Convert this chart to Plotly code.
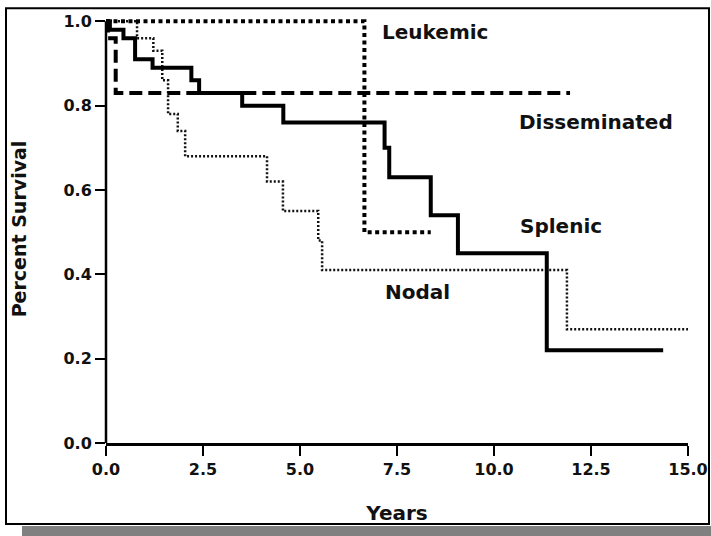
import plotly.graph_objects as go

# ---- data ----
leukemic_t = [0.0, 6.66, 8.37]
leukemic_s = [1.0, 0.5, 0.5]

disseminated_t = [0.0, 0.05, 0.25, 11.96]
disseminated_s = [1.0, 0.96, 0.83, 0.83]

splenic_t = [0.0, 0.10, 0.45, 0.75, 1.20, 2.20, 2.40, 3.51, 4.57, 7.18, 7.30, 8.37, 9.07, 11.36, 14.36]
splenic_s = [1.0, 0.98, 0.96, 0.91, 0.89, 0.86, 0.83, 0.80, 0.76, 0.70, 0.63, 0.54, 0.45, 0.22, 0.22]

nodal_t = [0.0, 0.80, 1.22, 1.45, 1.60, 1.85, 2.04, 4.15, 4.56, 5.47, 5.57, 11.88, 15.0]
nodal_s = [1.0, 0.96, 0.93, 0.86, 0.78, 0.74, 0.68, 0.62, 0.55, 0.48, 0.41, 0.27, 0.27]

x_ticks = [0.0, 2.5, 5.0, 7.5, 10.0, 12.5, 15.0]
y_ticks = [0.0, 0.2, 0.4, 0.6, 0.8, 1.0]

labels = ["Leukemic", "Disseminated", "Splenic", "Nodal"]
label_x = [7.06, 10.59, 10.62, 7.14]
label_y = [0.975, 0.762, 0.515, 0.358]

# ---- layout geometry ----
W, H = 711, 536
Y_TOP = 1.015                      # small headroom so the line at 1.0 is not clipped
L, R, B = 106, 23, 93
T = 21 - (Y_TOP - 1.0) * 422       # keep 1.0 at y=21 px, 0.0 at y=443 px
pw, ph = W - L - R, H - T - B


def px(x):
    return (x - L) / pw


def py(y):
    return (H - B - y) / ph


FONT = "DejaVu Sans"

fig = go.Figure()
fig.add_trace(go.Scatter(x=nodal_t, y=nodal_s, mode="lines", line_shape="hv",
                         line=dict(color="#111", width=2.5, dash="2px,2px"),
                         showlegend=False))
fig.add_trace(go.Scatter(x=disseminated_t, y=disseminated_s, mode="lines", line_shape="hv",
                         line=dict(color="black", width=4, dash="13px,6px"),
                         showlegend=False))
fig.add_trace(go.Scatter(x=leukemic_t, y=leukemic_s, mode="lines", line_shape="hv",
                         line=dict(color="black", width=4, dash="4px,3.5px"),
                         showlegend=False))
fig.add_trace(go.Scatter(x=splenic_t, y=splenic_s, mode="lines", line_shape="hv",
                         line=dict(color="black", width=4),
                         showlegend=False))

for txt, lx, ly in zip(labels, label_x, label_y):
    fig.add_annotation(x=lx, y=ly, text=txt, showarrow=False, xanchor="left", yanchor="middle",
                       font=dict(family=FONT, size=20, color="#111", weight="bold"))

# outer frame and gray shadow
fig.add_shape(type="rect", xref="paper", yref="paper",
              x0=px(22), x1=px(720), y0=py(526), y1=py(545),
              fillcolor="#808080", line=dict(width=0), layer="below")
fig.add_shape(type="rect", xref="paper", yref="paper",
              x0=px(6), x1=px(709), y0=py(524), y1=py(8),
              fillcolor="rgba(0,0,0,0)", line=dict(color="black", width=2))
# y axis line ending at 1.0
fig.add_shape(type="line", xref="paper", yref="paper",
              x0=0, x1=0, y0=0, y1=1.0 / Y_TOP,
              line=dict(color="black", width=2.5))

tickfont = dict(family=FONT, size=16, color="#111", weight="bold")
axis_common = dict(linecolor="black", linewidth=2.5, ticks="outside",
                   ticklen=10, tickwidth=2, tickcolor="black", showgrid=False, zeroline=False,
                   tickfont=tickfont)

fig.update_xaxes(range=[0, 15], tickvals=x_ticks, ticktext=[f"{v:.1f}" for v in x_ticks],
                 showline=True,
                 title=dict(text="Years", font=dict(family=FONT, size=20, color="#111", weight="bold"),
                            standoff=29),
                 **axis_common)
fig.update_yaxes(range=[0, Y_TOP], tickvals=y_ticks, ticktext=[f"{v:.1f}" for v in y_ticks],
                 showline=False,
                 title=dict(text="Percent Survival", font=dict(family=FONT, size=19, color="#111", weight="bold"),
                            standoff=31),
                 **axis_common)

fig.update_layout(width=W, height=H, margin=dict(l=L, r=R, t=T, b=B, autoexpand=False),
                  plot_bgcolor="white", paper_bgcolor="white")

fig.write_html("out.html")
